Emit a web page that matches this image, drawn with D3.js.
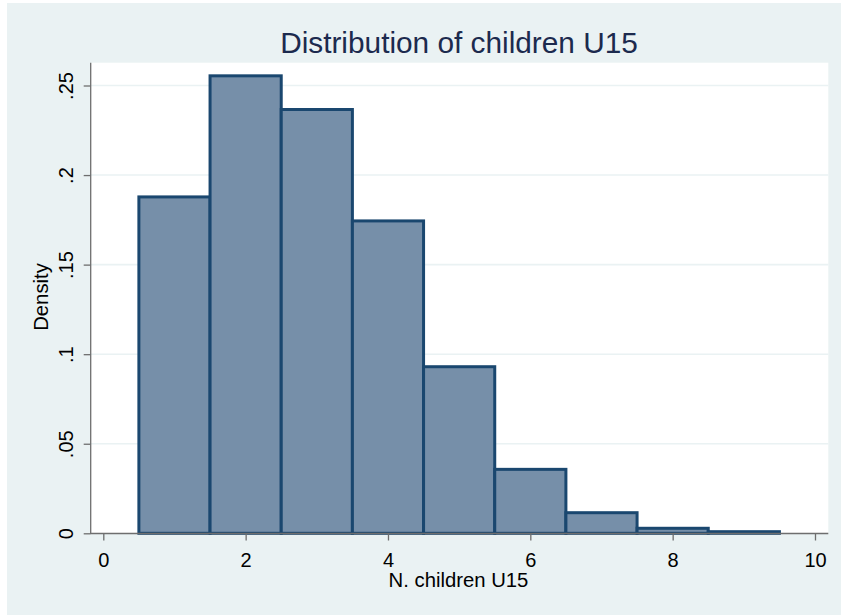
<!DOCTYPE html>
<html><head><meta charset="utf-8">
<script src="https://cdn.jsdelivr.net/npm/d3@7"></script>
<style>
html,body{margin:0;padding:0;background:#fff;}
svg{display:block;font-family:"Liberation Sans",Arial,sans-serif;}
</style></head>
<body>
<svg id="c" width="841" height="615"></svg>
<script>
// Data
const binStarts = [0.5, 1.5, 2.5, 3.5, 4.5, 5.5, 6.5, 7.5, 8.5];
const binWidth = 1;
const densities = [0.1878, 0.2554, 0.2366, 0.1744, 0.0930, 0.0357, 0.0115, 0.0028, 0.0009];
const xTicks = [0, 2, 4, 6, 8, 10];
const xTickLabels = ["0", "2", "4", "6", "8", "10"];
const yTicks = [0, 0.05, 0.1, 0.15, 0.2, 0.25];
const yTickLabels = ["0", ".05", ".1", ".15", ".2", ".25"];
const title = "Distribution of children U15";
const xTitle = "N. children U15";
const yTitle = "Density";

const svg = d3.select("#c");
const W = 841, H = 615;
const plot = {left: 90.7, right: 828.3, top: 62.7, bottom: 533.5};

svg.append("rect").attr("x", 7).attr("y", 3).attr("width", W - 7).attr("height", H - 3).attr("fill", "#eaf2f3");
svg.append("rect").attr("x", plot.left).attr("y", plot.top)
  .attr("width", plot.right - plot.left).attr("height", plot.bottom - plot.top).attr("fill", "#ffffff");

const x = d3.scaleLinear().domain([0, 10]).range([103.3, 815]);
const y = d3.scaleLinear().domain([0, 0.25]).range([533.3, 85.5]);

// grid
svg.append("g").selectAll("line").data(yTicks.filter(d => d > 0)).join("line")
  .attr("x1", plot.left).attr("x2", plot.right)
  .attr("y1", d => y(d)).attr("y2", d => y(d))
  .attr("stroke", "#eaf2f3").attr("stroke-width", 1.6);

// bars
svg.append("g").selectAll("rect").data(binStarts.map((s, i) => ({s, v: densities[i]}))).join("rect")
  .attr("x", d => x(d.s)).attr("width", d => x(d.s + binWidth) - x(d.s))
  .attr("y", d => y(d.v)).attr("height", d => y(0) - y(d.v))
  .attr("fill", "#768fa9").attr("stroke", "#1a476f").attr("stroke-width", 3);

// y axis
const yAxis = d3.axisLeft(y).tickValues(yTicks).tickFormat((d, i) => yTickLabels[i]).tickSize(7).tickSizeOuter(0);
const gy = svg.append("g").attr("transform", `translate(${plot.left},0)`).call(yAxis);
gy.select(".domain").remove();
gy.append("line").attr("x1", 0).attr("x2", 0).attr("y1", plot.top).attr("y2", plot.bottom + 0.5)
  .attr("stroke", "#6e6e6e").attr("stroke-width", 1.3);
gy.selectAll(".tick line").attr("stroke", "#6e6e6e").attr("stroke-width", 1.3);
gy.selectAll(".tick text").attr("x", 0).attr("dy", null).attr("text-anchor", "middle")
  .attr("transform", `translate(${73 - plot.left},0) rotate(-90)`)
  .attr("font-size", 20).attr("fill", "#000").attr("font-family", "Liberation Sans, Arial, sans-serif");

// x axis
const xAxis = d3.axisBottom(x).tickValues(xTicks).tickFormat((d, i) => xTickLabels[i]).tickSize(7).tickSizeOuter(0);
const gx = svg.append("g").attr("transform", `translate(0,${plot.bottom})`).call(xAxis);
gx.select(".domain").remove();
gx.append("line").attr("x1", plot.left).attr("x2", plot.right).attr("y1", 0).attr("y2", 0)
  .attr("stroke", "#6e6e6e").attr("stroke-width", 1.3);
gx.selectAll(".tick line").attr("stroke", "#6e6e6e").attr("stroke-width", 1.3);
gx.selectAll(".tick text").attr("y", 567 - plot.bottom).attr("dy", null)
  .attr("font-size", 20).attr("fill", "#000").attr("font-family", "Liberation Sans, Arial, sans-serif");

// titles
svg.append("text").attr("x", 459).attr("y", 53).attr("text-anchor", "middle")
  .attr("font-size", 29.8).attr("fill", "#1c2a4e").text(title);
svg.append("text").attr("x", 458.5).attr("y", 586.5).attr("text-anchor", "middle")
  .attr("font-size", 20.3).attr("fill", "#000").text(xTitle);
svg.append("text").attr("transform", "translate(47.5,297) rotate(-90)").attr("text-anchor", "middle")
  .attr("font-size", 20.3).attr("fill", "#000").text(yTitle);
</script>
</body></html>
